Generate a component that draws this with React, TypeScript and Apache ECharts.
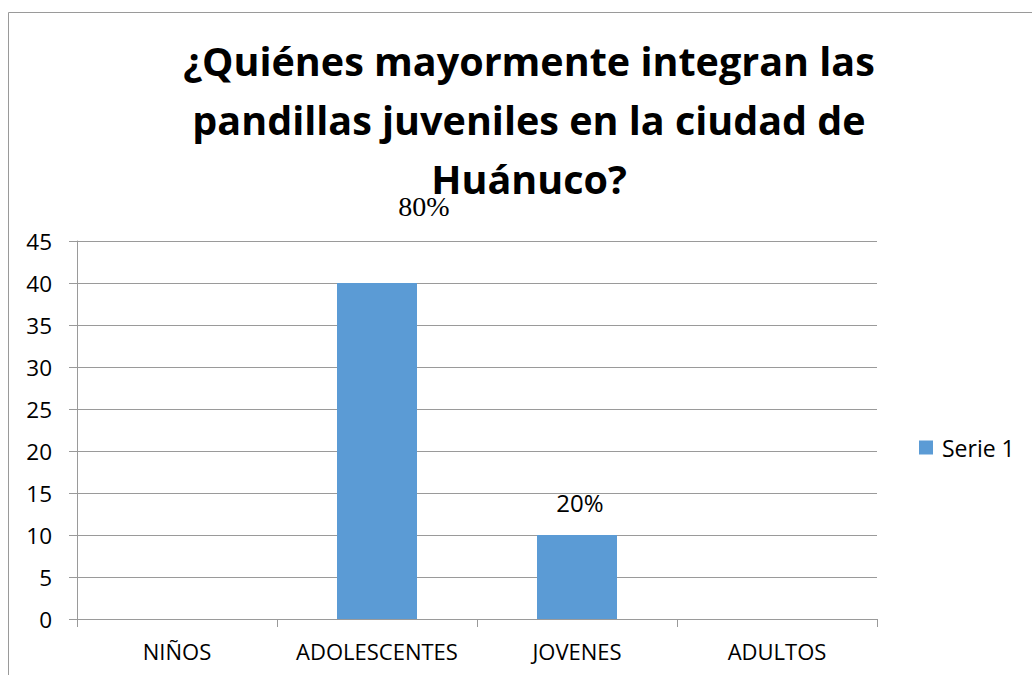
import React, { useEffect, useRef } from "react";
import * as echarts from "echarts";

const titleText = "¿Quiénes mayormente integran las\npandillas juveniles en la ciudad de\nHuánuco?";
const categories = ["NIÑOS", "ADOLESCENTES", "JOVENES", "ADULTOS"];
const values = [0, 40, 10, 0];
const valueLabels = ["", "80%", "20%", ""];
const seriesName = "Serie 1";
const yMin = 0;
const yMax = 45;
const yInterval = 5;

const SANS = "'Open Sans', 'Noto Sans', sans-serif";
const GREY = "#9a9a9a";

export default function App() {
  const ref = useRef<HTMLDivElement>(null);
  useEffect(() => {
    if (!ref.current) return;
    const chart = echarts.init(ref.current, undefined, { renderer: "svg" });
    const labelStyle = (i: number) => {
      if (!valueLabels[i]) return { show: false };
      if (i === 1)
        return {
          show: true,
          position: "top",
          formatter: valueLabels[i],
          fontFamily: "'Liberation Serif', 'Times New Roman', serif",
          fontSize: 28,
          color: "#000",
          offset: [47, -58],
        };
      return {
        show: true,
        position: "top",
        formatter: valueLabels[i],
        fontFamily: SANS,
        fontSize: 24,
        color: "#000",
        offset: [3, -16],
      };
    };
    chart.setOption({
      animation: false,
      backgroundColor: "#fff",
      title: {
        text: titleText,
        left: 524,
        top: 26,
        textAlign: "center",
        textStyle: {
          fontFamily: SANS,
          fontWeight: "bold",
          fontSize: 39.5,
          lineHeight: 59,
          color: "#000",
        },
      },
      graphic: [
        {
          type: "rect",
          shape: { x: 8.5, y: 12.5, width: 1100, height: 700 },
          style: { fill: "none", stroke: GREY, lineWidth: 1 },
          silent: true,
          z: -1,
        },
      ],
      legend: {
        show: true,
        left: 919,
        top: 436,
        padding: 0,
        itemWidth: 14,
        itemHeight: 14,
        icon: "rect",
        textStyle: { fontFamily: SANS, fontSize: 23, color: "#000", padding: [0, 0, 0, 4] },
        data: [seriesName],
      },
      grid: { left: 77, right: 155, top: 241, bottom: 56, containLabel: false },
      xAxis: {
        type: "category",
        data: categories,
        boundaryGap: true,
        axisLine: { show: true, lineStyle: { color: GREY, width: 1 } },
        axisTick: { show: true, alignWithLabel: false, interval: 0, length: 8, lineStyle: { color: GREY } },
        axisLabel: { interval: 0, fontFamily: SANS, fontSize: 22, color: "#000", margin: 21 },
      },
      yAxis: {
        type: "value",
        min: yMin,
        max: yMax,
        interval: yInterval,
        axisLine: { show: true, lineStyle: { color: GREY, width: 1 } },
        axisTick: { show: true, length: 8, lineStyle: { color: GREY } },
        axisLabel: { fontFamily: SANS, fontSize: 22.5, color: "#000", margin: 25 },
        splitLine: { show: true, lineStyle: { color: GREY, width: 1 } },
      },
      series: [
        {
          name: seriesName,
          type: "bar",
          barWidth: "40%",
          itemStyle: { color: "#5B9BD5" },
          data: values.map((v, i) => ({ value: v, label: labelStyle(i) })),
        },
      ],
    });
    return () => chart.dispose();
  }, []);
  return (
    <div
      ref={ref}
      style={{ position: "fixed", left: 0, top: 0, width: 1032, height: 675 }}
    />
  );
}
